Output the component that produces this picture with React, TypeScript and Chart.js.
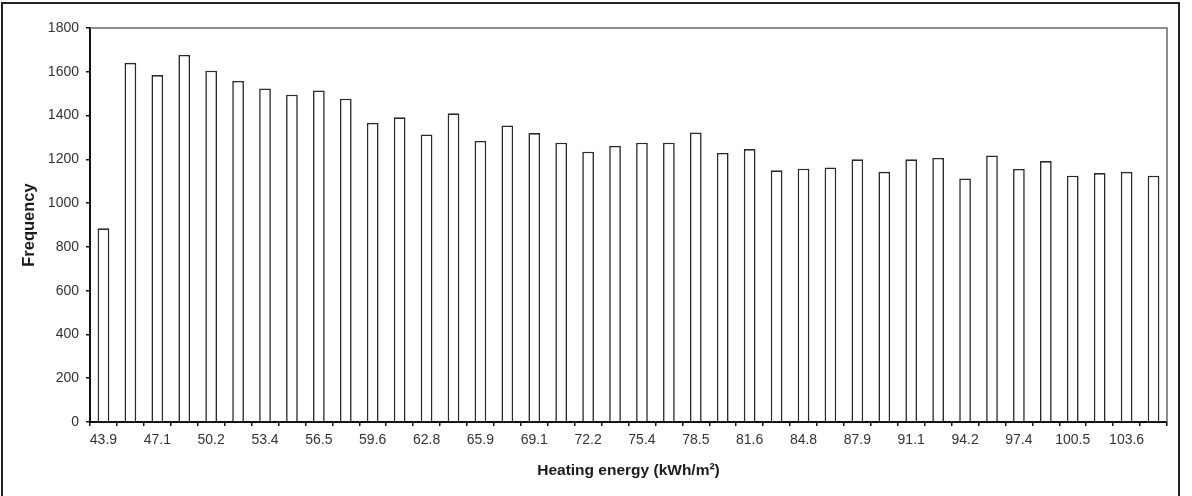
import React, { useEffect, useRef } from "react";
import { Chart, registerables } from "chart.js";

Chart.register(...registerables);

// Frequency of each heating-energy bin (40 bins)
const frequencies: number[] = [
  885, 1641, 1585, 1677, 1605, 1558, 1524, 1495, 1515, 1477,
  1367, 1392, 1314, 1410, 1284, 1355, 1320, 1276, 1235, 1261,
  1276, 1276, 1323, 1229, 1247, 1150, 1157, 1163, 1200, 1143,
  1200, 1206, 1113, 1218, 1156, 1192, 1125, 1137, 1143, 1125,
];

// Labels shown under every second bin
const tickLabels: string[] = [
  "43.9", "47.1", "50.2", "53.4", "56.5", "59.6", "62.8", "65.9", "69.1", "72.2",
  "75.4", "78.5", "81.6", "84.8", "87.9", "91.1", "94.2", "97.4", "100.5", "103.6",
];

const yTitle = "Frequency";
const xTitle = "Heating energy (kWh/m²)";

const categories: string[] = frequencies.map((_, i) =>
  i % 2 === 0 ? tickLabels[i / 2] ?? "" : ""
);

const FONT = "'Liberation Sans', Arial, sans-serif";

const plotFrame = {
  id: "plotFrame",
  afterDatasetsDraw(chart: any) {
    const { ctx, chartArea } = chart;
    ctx.save();
    ctx.strokeStyle = "#6a6a6a";
    ctx.lineWidth = 1.5;
    ctx.beginPath();
    ctx.moveTo(chartArea.left, chartArea.top);
    ctx.lineTo(chartArea.right, chartArea.top);
    ctx.lineTo(chartArea.right, chartArea.bottom);
    ctx.stroke();
    ctx.restore();
  },
};

export default function App() {
  const ref = useRef<HTMLCanvasElement | null>(null);

  useEffect(() => {
    if (!ref.current) return;
    const chart = new Chart(ref.current, {
      type: "bar",
      data: {
        labels: categories,
        datasets: [
          {
            data: frequencies,
            backgroundColor: "#ffffff",
            borderColor: "#2a2a2a",
            borderWidth: 1.6,
            borderSkipped: "bottom",
            categoryPercentage: 1,
            barPercentage: 0.435,
          },
        ],
      },
      options: {
        responsive: false,
        animation: false,
        devicePixelRatio: 1,
        layout: { padding: { top: 28, right: 25, left: 0, bottom: 0 } },
        plugins: {
          legend: { display: false },
          tooltip: { enabled: false },
        },
        scales: {
          x: {
            offset: true,
            grid: {
              offset: true,
              drawOnChartArea: false,
              drawTicks: true,
              tickLength: 4,
              color: "#111",
              lineWidth: 1.5,
            },
            border: { display: true, color: "#111", width: 2 },
            ticks: {
              autoSkip: false,
              maxRotation: 0,
              minRotation: 0,
              padding: 6,
              color: "#333",
              font: { family: FONT, size: 14 },
            },
            title: {
              display: true,
              text: xTitle,
              color: "#1a1a1a",
              font: { family: FONT, size: 15.5, weight: "bold" },
              padding: { top: 0, bottom: 16 },
            },
            afterFit(scale: any) {
              scale.height = 74;
            },
          },
          y: {
            min: 0,
            max: 1800,
            grid: {
              drawOnChartArea: false,
              drawTicks: true,
              tickLength: 4,
              color: "#111",
              lineWidth: 1.5,
            },
            border: { display: true, color: "#111", width: 2 },
            ticks: {
              stepSize: 200,
              padding: 7,
              color: "#333",
              font: { family: FONT, size: 14 },
              callback: (v: any) => String(v),
            },
            title: {
              display: true,
              text: yTitle,
              color: "#1a1a1a",
              font: { family: FONT, size: 16.5, weight: "bold" },
              padding: { top: 20, bottom: 0 },
            },
            afterFit(scale: any) {
              scale.width = 90;
            },
          },
        },
      },
      plugins: [plotFrame],
    });
    return () => chart.destroy();
  }, []);

  return (
    <div style={{ position: "fixed", left: 0, top: 0, width: 1192, height: 496, background: "#fff", overflow: "hidden" }}>
      <div
        style={{
          position: "absolute",
          left: 1,
          top: 2,
          width: 1175,
          height: 500,
          borderLeft: "2px solid #222",
          borderTop: "2px solid #222",
          borderRight: "2px solid #222",
        }}
      />
      <canvas
        ref={ref}
        width={1192}
        height={496}
        style={{ position: "absolute", left: 0, top: 0, width: 1192, height: 496 }}
      />
    </div>
  );
}
